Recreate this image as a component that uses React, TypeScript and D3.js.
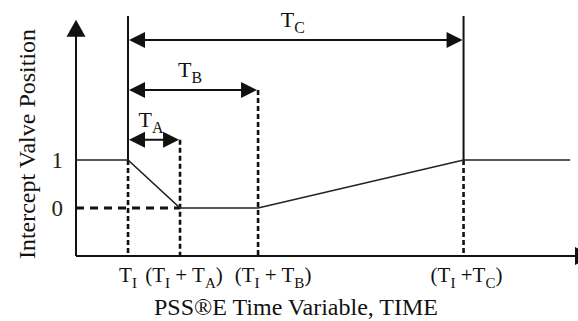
import React from "react";
import * as d3 from "d3";

// Timing of the intercept valve action (time units after the axis origin)
const markNames = ["TI", "TIA", "TIB", "TIC"];
const markTimes = [1, 2, 3.5, 7.45];
const xTickLabels = ["T_I", "(T_I + T_A)", "(T_I + T_B)", "(T_I +T_C)"];

// Valve position trace
const valveTimes = [0, 1, 2, 3.5, 7.45, 9.5];
const valvePositions = [1, 1, 0, 0, 1, 1];

// Y tick values and labels
const yTickValues = [1, 0];
const yTickLabels = ["1", "0"];

// Duration spans drawn above the trace
const spanLabels = ["T_A", "T_B", "T_C"];
const spanEnds = [2, 3.5, 7.45];
const spanLevels = [1.42, 2.46, 3.5];

const xTitle = "PSS®E Time Variable, TIME";
const yTitle = "Intercept Valve Position";

const W = 578;
const H = 321;
const FONT = "'Liberation Serif', 'Times New Roman', serif";
const INK = "#111";

const x = d3.scaleLinear().domain([0, 9.65]).range([76, 578]);
const y = d3.scaleLinear().domain([-1, 4]).range([256, 16]);

function Rich({ text, size }: { text: string; size: number }) {
  // "_X" renders X as a subscript
  const parts: React.ReactNode[] = [];
  let i = 0;
  let k = 0;
  let lowered = false;
  while (i < text.length) {
    if (text[i] === "_" && i + 1 < text.length) {
      parts.push(
        <tspan key={k++} dy={size * 0.28} fontSize={size * 0.72}>
          {text[i + 1]}
        </tspan>
      );
      lowered = true;
      i += 2;
    } else {
      let j = i;
      while (j < text.length && text[j] !== "_") j++;
      parts.push(
        <tspan key={k++} dy={lowered ? -size * 0.28 : 0} fontSize={size}>
          {text.slice(i, j)}
        </tspan>
      );
      lowered = false;
      i = j;
    }
  }
  return <>{parts}</>;
}

function arrowHead(tipX: number, tipY: number, dir: "left" | "right" | "up", len = 16, half = 8) {
  if (dir === "right") return `M${tipX},${tipY}L${tipX - len},${tipY - half}L${tipX - len},${tipY + half}Z`;
  if (dir === "left") return `M${tipX},${tipY}L${tipX + len},${tipY - half}L${tipX + len},${tipY + half}Z`;
  return `M${tipX},${tipY}L${tipX - half},${tipY + len}L${tipX + half},${tipY + len}Z`;
}

export default function App() {
  const line = d3
    .line<number>()
    .x((_, i) => x(valveTimes[i]))
    .y((v) => y(v));

  const tI = markTimes[0];
  const tC = markTimes[3];
  const tickShift = [0, 4, 15, 3];

  return (
    <svg
      width={W}
      height={H}
      style={{ position: "absolute", left: 0, top: 0, background: "#fff" }}
      fontFamily={FONT}
    >
      {/* axes */}
      <line x1={x(0)} y1={y(-1)} x2={x(0)} y2={y(3.6)} stroke={INK} strokeWidth={2} />
      <path d={arrowHead(x(0), y(3.92), "up", 17, 9.5)} fill={INK} />
      <line x1={x(0)} y1={y(-1)} x2={W} y2={y(-1)} stroke={INK} strokeWidth={2} />
      <path d={arrowHead(x(9.65) + 14, y(-1), "right", 17, 9)} fill={INK} />

      {/* solid markers at the start of the event and the end of recovery */}
      {[tI, tC].map((t, i) => (
        <line key={i} x1={x(t)} x2={x(t)} y1={y(4)} y2={y(1)} stroke={INK} strokeWidth={2} />
      ))}

      {/* dashed guides down to the time axis */}
      {markTimes.map((t, i) => {
        const top = i === 1 ? y(spanLevels[0]) : i === 2 ? y(spanLevels[1]) : y(1);
        return (
          <line
            key={markNames[i]}
            x1={x(t)}
            x2={x(t)}
            y1={top}
            y2={y(-1)}
            stroke={INK}
            strokeWidth={2.6}
            strokeDasharray="5,3"
          />
        );
      })}

      {/* dashed zero reference */}
      <line
        x1={x(0)}
        x2={x(markTimes[1])}
        y1={y(0)}
        y2={y(0)}
        stroke={INK}
        strokeWidth={3}
        strokeDasharray="8,6"
      />

      {/* valve position trace */}
      <path d={line(valvePositions) ?? ""} fill="none" stroke="#222" strokeWidth={1.7} />

      {/* duration spans */}
      {spanLabels.map((lab, i) => {
        const x0 = x(tI);
        const x1 = x(spanEnds[i]);
        const yy = y(spanLevels[i]);
        return (
          <g key={lab}>
            <line x1={x0 + 4} x2={x1 - 4} y1={yy} y2={yy} stroke={INK} strokeWidth={2} />
            <path d={arrowHead(x0 + 1, yy, "left")} fill={INK} />
            <path d={arrowHead(x1 - 1, yy, "right")} fill={INK} />
            <text x={(x0 + x1) / 2 - 3} y={yy - 13} textAnchor="middle" fontSize={22} fill={INK}>
              <Rich text={lab} size={22} />
            </text>
          </g>
        );
      })}

      {/* y ticks */}
      {yTickValues.map((v, i) => (
        <text
          key={v}
          x={x(0) - 13}
          y={y(v) + 8}
          textAnchor="end"
          fontSize={23}
          fill="#2a2210"
        >
          {yTickLabels[i]}
        </text>
      ))}

      {/* x tick labels */}
      {xTickLabels.map((lab, i) => (
        <text
          key={lab}
          x={x(markTimes[i]) + tickShift[i]}
          y={282}
          textAnchor="middle"
          fontSize={21}
          fill={INK}
        >
          <Rich text={lab} size={21} />
        </text>
      ))}

      {/* axis titles */}
      <text x={296} y={315} textAnchor="middle" fontSize={24} fill={INK}>
        {xTitle}
      </text>
      <text
        transform={`translate(35,144) rotate(-90)`}
        textAnchor="middle"
        fontSize={24}
        fill={INK}
      >
        {yTitle}
      </text>
    </svg>
  );
}
